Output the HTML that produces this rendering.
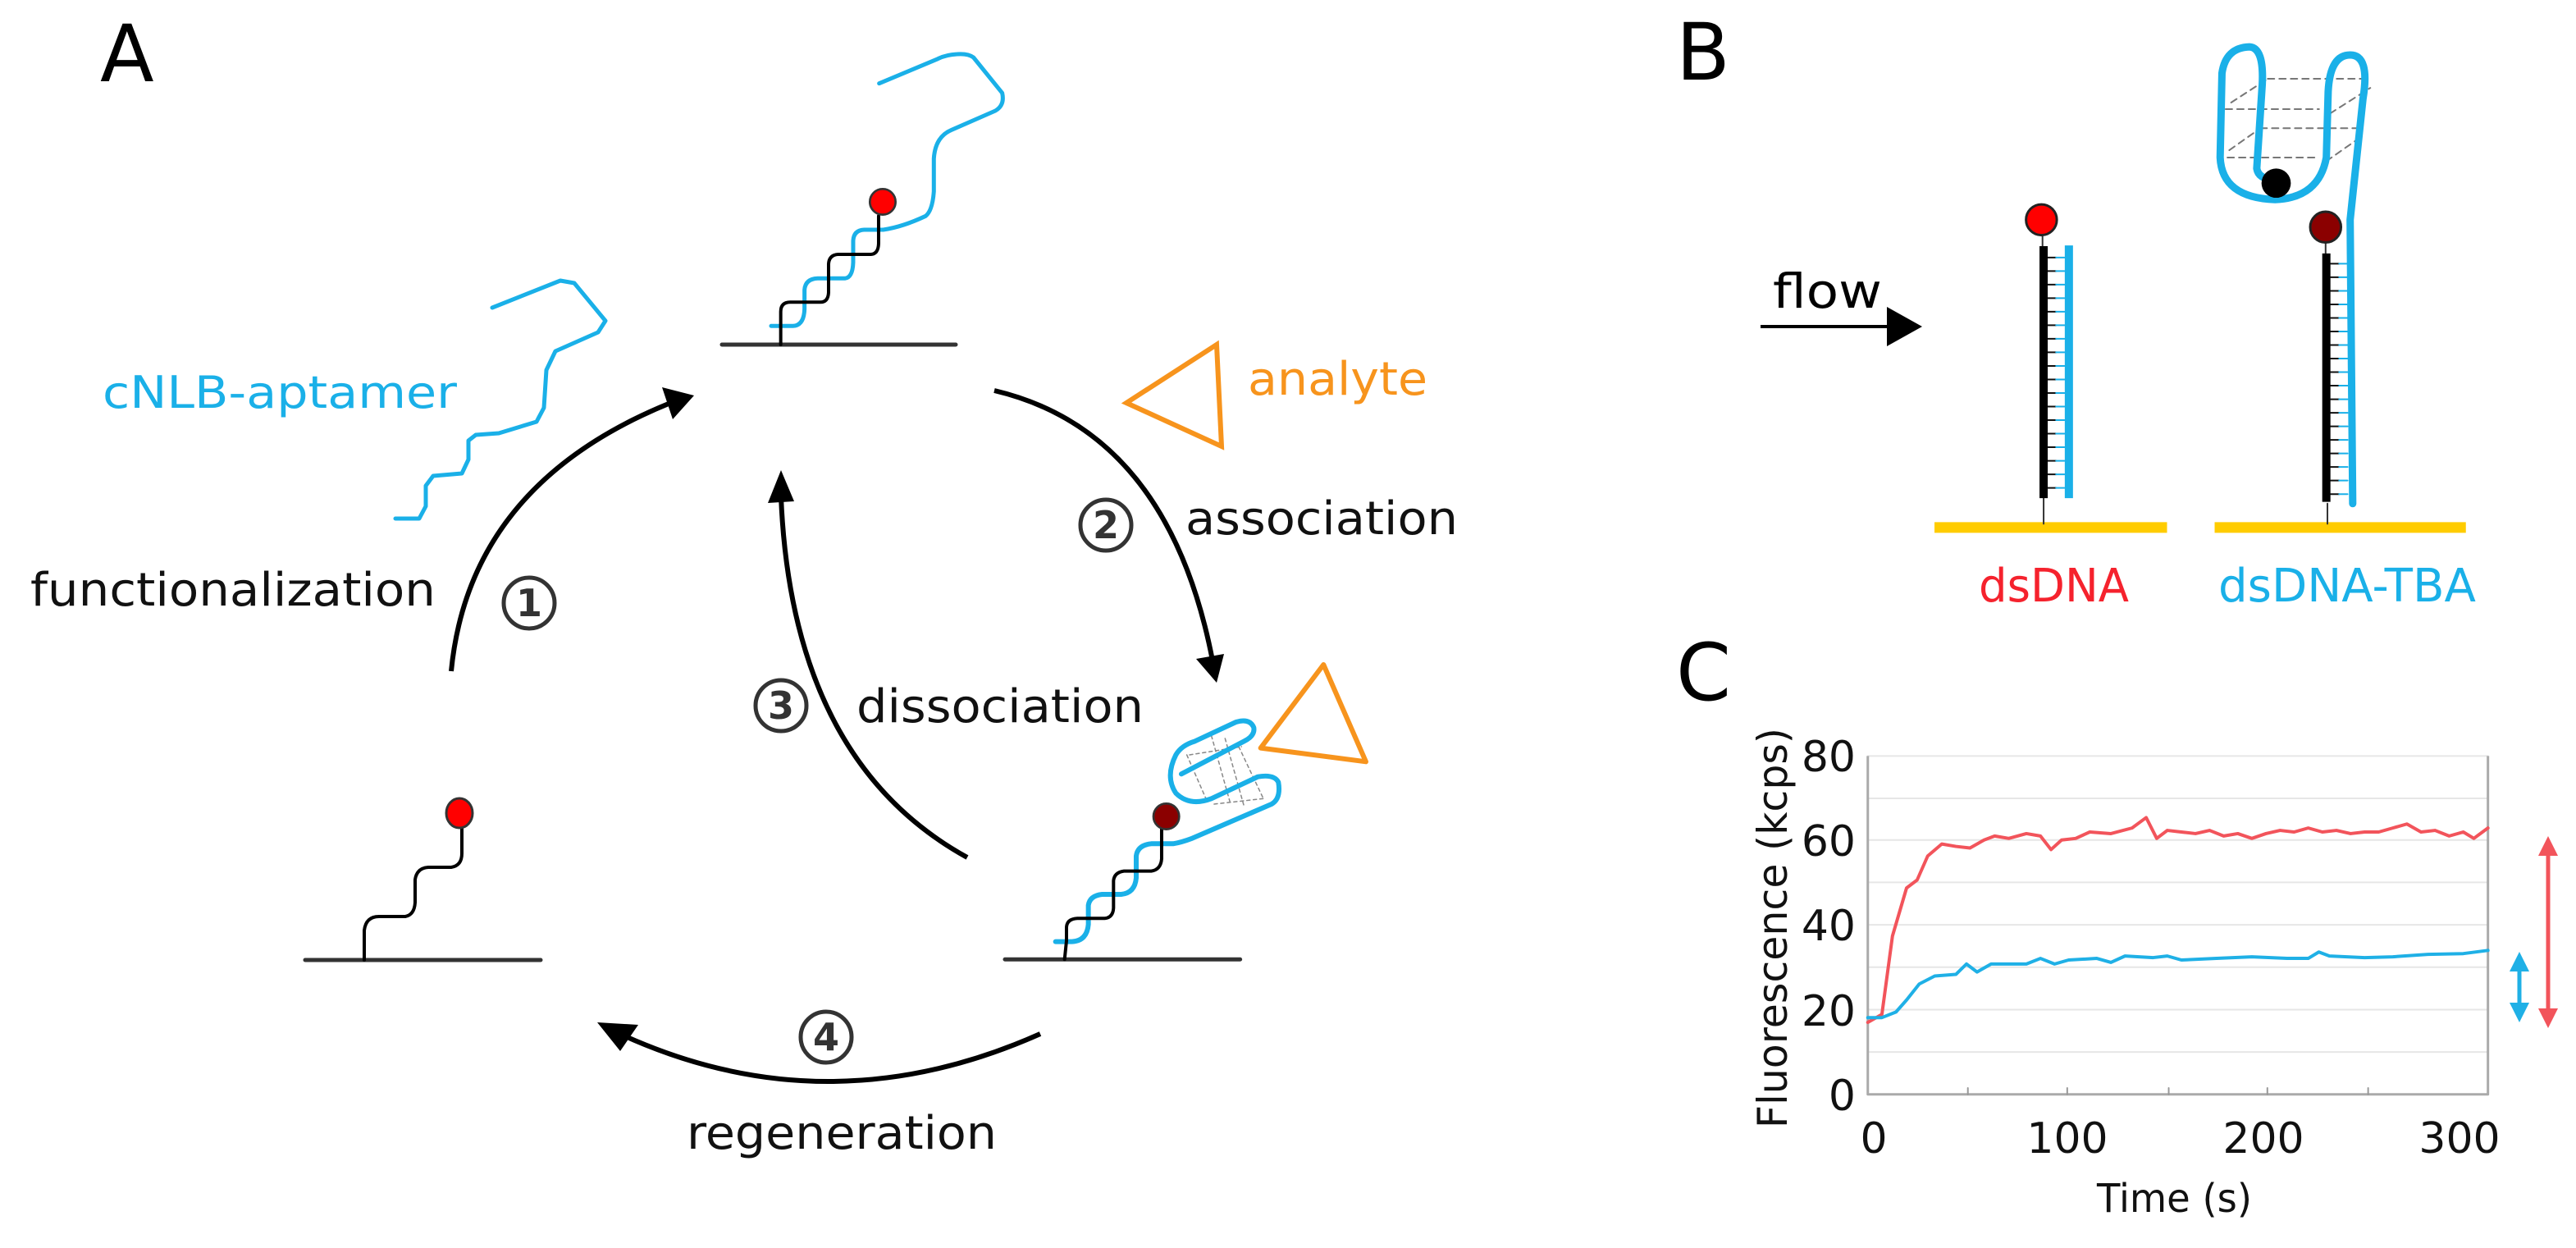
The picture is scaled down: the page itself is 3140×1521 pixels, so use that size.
<!DOCTYPE html>
<html><head><meta charset="utf-8"><style>
html,body{margin:0;padding:0;background:#fff;}
svg{display:block;}
text{font-family:"DejaVu Sans","Liberation Sans",sans-serif;}
.ns{vector-effect:non-scaling-stroke;fill:none;stroke-linecap:round;stroke-linejoin:round;}
</style></head><body>
<svg width="3140" height="1521" viewBox="0 0 3140 1521" xmlns="http://www.w3.org/2000/svg">
<rect width="3140" height="1521" fill="#fff"/>

<text x="122" y="99" font-size="96" fill="#000">A</text>
<text x="2043" y="97" font-size="96" fill="#000">B</text>
<text x="2043" y="853" font-size="96" fill="#000">C</text>

<g transform="translate(800,0) scale(0.3333)">
 <path class="ns" d="M240 1260 H1095" stroke="#333" stroke-width="5"/>
 <path class="ns" d="M420 1192 H500 Q540 1190 542 1130 V1060 Q545 1020 590 1018 H690 Q718 1015 720 960 V880 Q722 842 760 840 H830 Q900 830 985 790 Q1010 770 1015 700 V580 Q1020 500 1080 475 L1240 405 Q1275 385 1265 340 L1160 210 Q1140 195 1100 198 Q1060 200 1030 215 L815 305" stroke="#1ab0e8" stroke-width="5"/>
 <path class="ns" d="M455 1260 V1140 Q455 1105 490 1105 H600 Q628 1105 630 1070 V965 Q632 932 665 930 H785 Q812 928 813 890 V790" stroke="#000" stroke-width="4"/>
 <circle cx="828" cy="738" r="47" fill="#f00" stroke="#333" stroke-width="8"/>
</g>

<polyline class="ns" points="482,632 511,632 519,617 519,592 528,580 563,577 571,560 571,537 580,530 608,528 654,514 663,497 666,451 677,428 729,405 738,391 700,345 683,342 600,375" stroke="#1ab0e8" stroke-width="5"/>
<text x="125" y="497" font-size="54" fill="#1ab0e8" textLength="432" lengthAdjust="spacingAndGlyphs">cNLB-aptamer</text>
<text x="37" y="738" font-size="56" fill="#111" textLength="494" lengthAdjust="spacingAndGlyphs">functionalization</text>

<path class="ns" d="M372 1170 H659" stroke="#333" stroke-width="5"/>
<path class="ns" d="M444 1170 V1134 Q446 1117 462 1117 H494 Q505 1115 506 1100 V1072 Q508 1058 522 1057 H550 Q563 1055 563 1040 V1005" stroke="#000" stroke-width="4"/>
<ellipse cx="560" cy="991" rx="16" ry="18" fill="#f00" stroke="#333" stroke-width="3"/>

<g transform="translate(1200,780) scale(0.3333)">
 <path class="ns" d="M75 1168 H935" stroke="#333" stroke-width="5"/>
 <path class="ns" d="M740 420 L810 580 M830 350 L900 600 M880 360 L950 610 M930 390 L1020 580 M840 600 L1020 580 M750 420 L940 390" stroke="#888" stroke-width="1.5" stroke-dasharray="4 4"/>
 <path class="ns" d="M260 1103 H320 Q375 1100 380 1040 V970 Q385 935 430 930 H500 Q550 925 555 870 V790 Q560 750 610 745 H690 Q720 740 760 725 L1050 600 Q1085 580 1075 520 Q1060 490 1000 500 L830 580 Q750 610 700 560 Q660 500 700 420 Q720 385 770 370 L920 300 Q970 285 985 320 Q990 350 950 370 L720 490" stroke="#1ab0e8" stroke-width="6"/>
 <path class="ns" d="M293 1168 L300 1100 V1050 Q302 1020 340 1018 H440 Q470 1015 472 980 V880 Q475 850 510 845 H610 Q645 840 648 800 V690" stroke="#000" stroke-width="4"/>
 <circle cx="665" cy="645" r="47" fill="#8b0000" stroke="#333" stroke-width="8"/>
 <path class="ns" d="M1240 90 L1010 395 L1395 445 Z" stroke="#f7941d" stroke-width="6"/>
</g>

<path d="M1483 420 L1373 491 L1489 544 Z" fill="none" stroke="#f7941d" stroke-width="6"/>
<text x="1521" y="481" font-size="56" fill="#f7941d" textLength="219" lengthAdjust="spacingAndGlyphs">analyte</text>

<g fill="none" stroke="#000" stroke-width="6">
 <path d="M550 818 Q572 591 815 492"/>
 <path d="M1212 476 Q1424 526 1478 805"/>
 <path d="M1179 1045 Q965 927 952 605"/>
 <path d="M1268 1260 Q1010 1375 760 1262"/>
</g>
<polygon points="846,482 807,472 820,511" fill="#000"/>
<polygon points="1483,832 1458,803 1492,797" fill="#000"/>
<polygon points="952,573 936,613 968,611" fill="#000"/>
<polygon points="728,1246 778,1249 756,1281" fill="#000"/>

<g fill="none" stroke="#333" stroke-width="5">
 <circle cx="645" cy="735" r="31"/>
 <circle cx="1348" cy="640" r="31"/>
 <circle cx="952" cy="860" r="31"/>
 <circle cx="1007" cy="1264" r="31"/>
</g>
<g font-size="46" font-weight="bold" fill="#333" text-anchor="middle">
 <text x="645" y="751">1</text>
 <text x="1348" y="656">2</text>
 <text x="952" y="876">3</text>
 <text x="1007" y="1280">4</text>
</g>

<text x="1445" y="651" font-size="56" fill="#111" textLength="332" lengthAdjust="spacingAndGlyphs">association</text>
<text x="1044" y="880" font-size="56" fill="#111" textLength="350" lengthAdjust="spacingAndGlyphs">dissociation</text>
<text x="837" y="1400" font-size="56" fill="#111" textLength="378" lengthAdjust="spacingAndGlyphs">regeneration</text>

<text x="2161" y="375" font-size="58" fill="#000" textLength="133" lengthAdjust="spacingAndGlyphs">flow</text>
<path d="M2146 398 H2302" stroke="#000" stroke-width="4"/>
<polygon points="2343,398 2300,374 2300,422" fill="#000"/>

<g transform="translate(2300,0) scale(0.4464)">
 <path class="ns" d="M130 1440 H765 M895 1440 H1581" stroke="#ffcc00" stroke-width="13" style="stroke-linecap:butt"/>
 <path class="ns" d="M428 1360 V1430 M1203 1375 V1430 M425 640 V672 M1198 660 V692" stroke="#333" stroke-width="2"/>
 <path class="ns" stroke="#111" stroke-width="2" d="M440 703 H462 M440 740 H462 M440 777 H462 M440 814 H462 M440 851 H462 M440 888 H462 M440 925 H462 M440 962 H462 M440 999 H462 M440 1036 H462 M440 1073 H462 M440 1110 H462 M440 1147 H462 M440 1184 H462 M440 1221 H462 M440 1258 H462 M440 1295 H462 M440 1332 H462"/>
 <path class="ns" stroke="#1ab0e8" stroke-width="2" d="M462 703 H485 M462 740 H485 M462 777 H485 M462 814 H485 M462 851 H485 M462 888 H485 M462 925 H485 M462 962 H485 M462 999 H485 M462 1036 H485 M462 1073 H485 M462 1110 H485 M462 1147 H485 M462 1184 H485 M462 1221 H485 M462 1258 H485 M462 1295 H485 M462 1332 H485"/>
 <path class="ns" stroke="#111" stroke-width="2" d="M1212 720 H1235 M1212 757 H1235 M1212 794 H1235 M1212 831 H1235 M1212 868 H1235 M1212 905 H1235 M1212 942 H1235 M1212 979 H1235 M1212 1016 H1235 M1212 1053 H1235 M1212 1090 H1235 M1212 1127 H1235 M1212 1164 H1235 M1212 1201 H1235 M1212 1238 H1235 M1212 1275 H1235 M1212 1312 H1235 M1212 1349 H1235"/>
 <path class="ns" stroke="#1ab0e8" stroke-width="2" d="M1235 720 H1258 M1235 757 H1258 M1235 794 H1258 M1235 831 H1258 M1235 868 H1258 M1235 905 H1258 M1235 942 H1258 M1235 979 H1258 M1235 1016 H1258 M1235 1053 H1258 M1235 1090 H1258 M1235 1127 H1258 M1235 1164 H1258 M1235 1201 H1258 M1235 1238 H1258 M1235 1275 H1258 M1235 1312 H1258 M1235 1349 H1258"/>
 <path class="ns" d="M428 672 V1360 M1200 692 V1370" stroke="#000" stroke-width="10" style="stroke-linecap:butt"/>
 <path class="ns" d="M497 670 V1360" stroke="#1ab0e8" stroke-width="10" style="stroke-linecap:butt"/>
 <path class="ns" d="M1040 215 H1320 M925 298 H1180 M1020 350 H1300 M930 430 H1170 M940 280 L1040 215 M1210 310 L1320 240 M935 410 L1020 350 M1200 440 L1300 370" stroke="#777" stroke-width="2" stroke-dasharray="8 6"/>
 <path class="ns" d="M1272 1375 L1265 600 L1300 270 Q1320 150 1265 150 Q1210 150 1205 250 L1200 430 Q1180 540 1060 545 Q915 540 910 430 L915 200 Q925 130 990 128 Q1030 130 1025 230 L1010 460 Q1015 490 1060 490" stroke="#1ab0e8" stroke-width="9"/>
 <circle cx="1063" cy="500" r="40" fill="#000"/>
 <circle cx="422" cy="600" r="42" fill="#f00" stroke="#222" stroke-width="3" vector-effect="non-scaling-stroke"/>
 <circle cx="1198" cy="620" r="42" fill="#8b0000" stroke="#222" stroke-width="3" vector-effect="non-scaling-stroke"/>
</g>
<text x="2412" y="733" font-size="56" fill="#f5222d" textLength="183" lengthAdjust="spacingAndGlyphs">dsDNA</text>
<text x="2704" y="733" font-size="56" fill="#1ab0e8" textLength="314" lengthAdjust="spacingAndGlyphs">dsDNA-TBA</text>

<g transform="translate(1800,0) scale(0.859,0.975)">
 <path class="ns" d="M555 1315 H1435 M555 1262 H1435 M555 1209 H1435 M555 1156 H1435 M555 1103 H1435 M555 1050 H1435 M555 998 H1435 M555 945 H1435" stroke="#e6e6e6" stroke-width="2"/>
 <path class="ns" d="M555 945 V1368 H1435 V945" stroke="#aaa" stroke-width="3" style="stroke-linecap:butt"/>
 <path class="ns" d="M697 1368 V1360 M838 1368 V1360 M982 1368 V1360 M1122 1368 V1360 M1265 1368 V1360" stroke="#999" stroke-width="2"/>
 <polyline class="ns" stroke="#f2545b" stroke-width="4" points="555,1278 575,1268 590,1170 610,1110 625,1100 640,1070 660,1055 680,1058 700,1060 720,1050 735,1045 755,1048 780,1042 800,1045 815,1062 830,1050 850,1048 870,1040 900,1042 930,1035 950,1022 965,1048 980,1038 1000,1040 1020,1042 1040,1038 1060,1045 1080,1042 1100,1048 1120,1042 1140,1038 1160,1040 1180,1035 1200,1040 1220,1038 1240,1042 1260,1040 1280,1040 1300,1035 1320,1030 1340,1040 1360,1038 1380,1045 1400,1040 1415,1048 1435,1035"/>
 <polyline class="ns" stroke="#1fb0e6" stroke-width="4" points="555,1272 575,1272 595,1265 610,1250 628,1230 650,1220 680,1218 695,1205 710,1215 730,1205 780,1205 800,1198 820,1205 840,1200 880,1198 900,1203 920,1195 960,1197 980,1195 1000,1200 1050,1198 1100,1196 1150,1198 1180,1198 1195,1190 1210,1195 1260,1197 1300,1196 1350,1193 1400,1192 1435,1188"/>
</g>
<g font-size="52" fill="#111" text-anchor="end">
 <text x="2262" y="940">80</text>
 <text x="2262" y="1043">60</text>
 <text x="2262" y="1146">40</text>
 <text x="2262" y="1250">20</text>
 <text x="2262" y="1353">0</text>
</g>
<g font-size="52" fill="#111" text-anchor="middle">
 <text x="2284" y="1405">0</text>
 <text x="2520" y="1405">100</text>
 <text x="2759" y="1405">200</text>
 <text x="2998" y="1405">300</text>
</g>
<text x="2556" y="1477" font-size="48" fill="#111" textLength="189" lengthAdjust="spacingAndGlyphs">Time (s)</text>
<text transform="translate(2178,1131) rotate(-90)" x="0" y="0" font-size="50" fill="#111" text-anchor="middle" textLength="488" lengthAdjust="spacingAndGlyphs">Fluorescence (kcps)</text>

<path d="M3106 1040 V1232" stroke="#f2545b" stroke-width="5"/>
<polygon points="3106,1019 3094,1043 3118,1043" fill="#f2545b"/>
<polygon points="3106,1253 3094,1229 3118,1229" fill="#f2545b"/>
<path d="M3071 1180 V1226" stroke="#1fb0e6" stroke-width="5"/>
<polygon points="3071,1160 3059,1184 3083,1184" fill="#1fb0e6"/>
<polygon points="3071,1246 3059,1222 3083,1222" fill="#1fb0e6"/>
</svg>
</body></html>
